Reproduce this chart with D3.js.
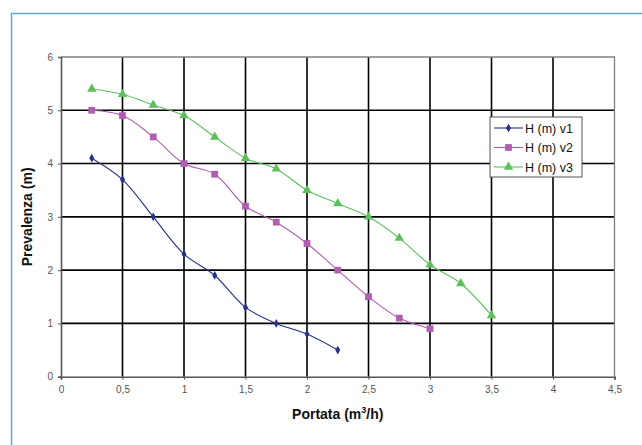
<!DOCTYPE html>
<html>
<head>
<meta charset="utf-8">
<script src="https://cdn.jsdelivr.net/npm/d3@7"></script>
<style>
  body { margin: 0; background: #fff; }
  text { font-family: "Liberation Sans", Arial, sans-serif; }
</style>
</head>
<body>
<div id="chart"></div>
<script>
// data
var xV1 = [0.25, 0.5, 0.75, 1, 1.25, 1.5, 1.75, 2, 2.25];
var hV1 = [4.1, 3.7, 3.0, 2.3, 1.9, 1.3, 1.0, 0.8, 0.5];
var xV2 = [0.25, 0.5, 0.75, 1, 1.25, 1.5, 1.75, 2, 2.25, 2.5, 2.75, 3];
var hV2 = [5.0, 4.9, 4.5, 4.0, 3.8, 3.2, 2.9, 2.5, 2.0, 1.5, 1.1, 0.9];
var xV3 = [0.25, 0.5, 0.75, 1, 1.25, 1.5, 1.75, 2, 2.25, 2.5, 2.75, 3, 3.25, 3.5];
var hV3 = [5.4, 5.3, 5.1, 4.9, 4.5, 4.1, 3.9, 3.5, 3.25, 3.0, 2.6, 2.1, 1.75, 1.15];
var xTicks = [0, 0.5, 1, 1.5, 2, 2.5, 3, 3.5, 4, 4.5];
var yTicks = [0, 1, 2, 3, 4, 5, 6];
var seriesNames = ["H (m) v1", "H (m) v2", "H (m) v3"];

var svgWidth = 642, svgHeight = 445;
var margin = { top: 57, left: 61, right: 642 - 614.5, bottom: 445 - 376.7 };
var width = svgWidth - margin.left - margin.right;
var height = svgHeight - margin.top - margin.bottom;

var svg = d3.select("#chart").append("svg")
  .attr("width", svgWidth)
  .attr("height", svgHeight);

// outer frame (open to the right and bottom)
svg.append("path")
  .attr("d", "M11.5,445 L11.5,13.5 L642,13.5")
  .attr("fill", "none")
  .attr("stroke", "#5ba8dc")
  .attr("stroke-width", 1.5);

var chartGroup = svg.append("g")
  .attr("transform", `translate(${margin.left}, ${margin.top})`);

var xScale = d3.scaleLinear().domain([0, 4.5]).range([0, width]);
var yScale = d3.scaleLinear().domain([0, 6]).range([height, 0]);

// grid
chartGroup.selectAll(".vgrid")
  .data(xTicks.filter(d => d > 0 && d < 4.5))
  .enter().append("line")
  .attr("x1", d => xScale(d)).attr("x2", d => xScale(d))
  .attr("y1", 0).attr("y2", height)
  .attr("stroke", "#000").attr("stroke-width", 1.6);

chartGroup.selectAll(".hgrid")
  .data(yTicks.filter(d => d > 0 && d < 6))
  .enter().append("line")
  .attr("x1", 0).attr("x2", width)
  .attr("y1", d => yScale(d)).attr("y2", d => yScale(d))
  .attr("stroke", "#000").attr("stroke-width", 1.6);

// plot border top/right
chartGroup.append("path")
  .attr("d", `M0,0 L${width},0 L${width},${height}`)
  .attr("fill", "none")
  .attr("stroke", "#808080")
  .attr("stroke-width", 1.3);

// axes
var bottomAxis = d3.axisBottom(xScale)
  .tickValues(xTicks)
  .tickSize(3)
  .tickPadding(6)
  .tickFormat(d => String(d).replace(".", ","));
var leftAxis = d3.axisLeft(yScale)
  .tickValues(yTicks)
  .tickSize(3)
  .tickPadding(5)
  .tickFormat(d => String(d));

var xAxis = chartGroup.append("g")
  .attr("transform", `translate(0, ${height})`)
  .call(bottomAxis);
var yAxis = chartGroup.append("g")
  .call(leftAxis);

[xAxis, yAxis].forEach(function(ax) {
  ax.select(".domain").attr("stroke", "#555").attr("stroke-width", 1.6);
  ax.selectAll(".tick line").attr("stroke", "#555");
  ax.selectAll(".tick text")
    .attr("fill", "#555")
    .style("font-size", "10px")
    .style("font-family", "'Liberation Sans', Arial, sans-serif");
});

// series
var series = [
  { name: seriesNames[0], xs: xV1, ys: hV1, color: "#27328a", shape: d3.symbolDiamond, size: 22 },
  { name: seriesNames[1], xs: xV2, ys: hV2, color: "#b05eb0", shape: d3.symbolSquare, size: 46 },
  { name: seriesNames[2], xs: xV3, ys: hV3, color: "#5cc15c", shape: d3.symbolTriangle, size: 38 }
];

var line = d3.line()
  .x(d => xScale(d[0]))
  .y(d => yScale(d[1]))
  .curve(d3.curveCatmullRom.alpha(0.5));

series.forEach(function(s) {
  var pts = s.xs.map((x, i) => [x, s.ys[i]]);
  chartGroup.append("path")
    .datum(pts)
    .attr("d", line)
    .attr("fill", "none")
    .attr("stroke", s.color)
    .attr("stroke-width", 1.1);
  chartGroup.selectAll(null)
    .data(pts)
    .enter().append("path")
    .attr("d", d3.symbol().type(s.shape).size(s.size))
    .attr("transform", d => `translate(${xScale(d[0])}, ${yScale(d[1])})`)
    .attr("fill", s.color);
});

// axis titles
svg.append("text")
  .attr("x", margin.left + width / 2)
  .attr("y", 419)
  .attr("text-anchor", "middle")
  .style("font-size", "14px")
  .style("font-weight", "bold")
  .attr("fill", "#111")
  .html('Portata (m<tspan dy="-6" font-size="9px">3</tspan><tspan dy="6">/h)</tspan>');

svg.append("text")
  .attr("transform", `translate(32, ${margin.top + height / 2}) rotate(-90)`)
  .attr("text-anchor", "middle")
  .style("font-size", "14px")
  .style("font-weight", "bold")
  .attr("fill", "#111")
  .text("Prevalenza (m)");

// legend
var legend = svg.append("g").attr("transform", "translate(490, 117)");
legend.append("rect")
  .attr("x", 0).attr("y", 0)
  .attr("width", 92).attr("height", 60)
  .attr("fill", "#fff")
  .attr("stroke", "#555")
  .attr("stroke-width", 1);

series.forEach(function(s, i) {
  var yy = 11 + i * 19.5;
  legend.append("line")
    .attr("x1", 4).attr("x2", 33)
    .attr("y1", yy).attr("y2", yy)
    .attr("stroke", s.color).attr("stroke-width", 1.1);
  legend.append("path")
    .attr("d", d3.symbol().type(s.shape).size(s.size))
    .attr("transform", `translate(18.5, ${yy})`)
    .attr("fill", s.color);
  legend.append("text")
    .attr("x", 35).attr("y", yy + 4.5)
    .style("font-size", "12.5px")
    .attr("fill", "#111")
    .text(s.name);
});
</script>
</body>
</html>
